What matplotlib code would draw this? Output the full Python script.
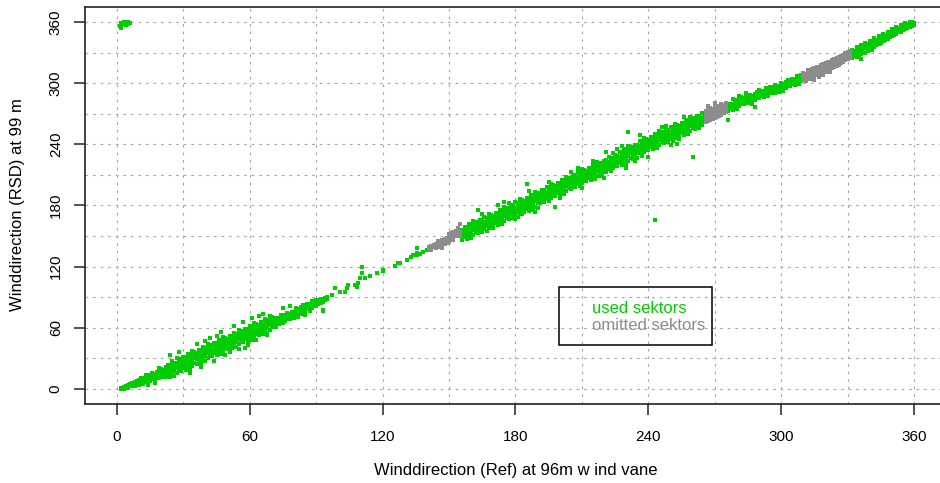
import matplotlib
matplotlib.use("Agg")
import matplotlib.pyplot as plt
from matplotlib.patches import Rectangle

plt.rcParams['font.family'] = ['Liberation Sans', 'DejaVu Sans']

GREEN = '#00cd00'
GREY = '#8c8c8c'

# used sectors, dense part: ref direction -> rsd directions read at that ref
used_a = {
    2: [0, 1], 3: [0, 1, 2], 4: [1, 2, 3], 5: [2, 3, 4, 1], 6: [3, 4, 5],
    7: [3, 5, 6, 4], 8: [4, 6, 7, 3], 9: [5, 7, 4, 8],
    10: [4, 6, 8, 9], 11: [6, 8, 9, 11], 12: [5, 7, 9, 11], 13: [7, 9, 11, 14],
    14: [8, 10, 12, 5], 15: [8, 11, 12, 14], 16: [10, 11, 14, 16],
    17: [10, 12, 14, 15, 6], 18: [12, 14, 15, 17], 19: [11, 13, 15, 17],
    20: [13, 15, 17, 20], 21: [15, 17, 19, 12],
    22: [12, 16, 19, 22], 23: [14, 17, 20, 24], 24: [12, 16, 19, 22, 24, 33],
    25: [15, 18, 22, 27], 26: [18, 21, 24, 26, 13], 27: [16, 21, 23, 26, 30],
    28: [19, 23, 25, 29], 29: [18, 22, 25, 28], 30: [21, 24, 27, 31],
    31: [19, 23, 26, 29, 31], 32: [22, 25, 29, 34], 33: [25, 28, 31, 33, 20],
    34: [23, 28, 30, 33, 37], 35: [26, 30, 32, 36], 36: [25, 29, 32, 35],
    37: [28, 31, 34, 38], 38: [26, 30, 33, 36, 38], 39: [29, 32, 36, 41],
    40: [32, 35, 38, 40, 27], 41: [30, 35, 37, 40, 44], 42: [33, 37, 39, 43],
    43: [32, 36, 39, 42], 44: [35, 38, 41, 45], 45: [33, 37, 40, 43, 45],
    46: [36, 39, 43, 48], 47: [39, 42, 45, 47, 34], 48: [37, 42, 44, 47, 51],
    49: [40, 44, 46, 50], 50: [39, 43, 46, 49], 51: [42, 45, 48, 52],
    52: [40, 44, 47, 50, 52], 53: [43, 46, 50, 55], 54: [46, 49, 52, 54, 41],
    55: [44, 49, 51, 54, 58], 56: [47, 51, 53, 57], 57: [46, 50, 53, 56],
    58: [49, 52, 55, 59], 59: [47, 51, 54, 57, 59], 60: [50, 53, 57, 62],
    61: [53, 56, 59, 61, 48], 62: [51, 56, 58, 61, 65], 63: [54, 58, 60, 64],
    64: [53, 57, 60, 63], 65: [56, 59, 62, 66], 66: [54, 58, 61, 64, 66],
    67: [57, 60, 64, 69], 68: [60, 63, 66, 68, 55], 69: [58, 63, 65, 68, 72],
    70: [61, 65, 67, 71],
    71: [63, 65, 67, 68], 72: [65, 67, 68, 70], 73: [64, 66, 68, 70],
    74: [66, 68, 70, 73], 75: [68, 70, 72, 65, 79], 76: [67, 70, 71, 73],
    77: [69, 70, 73, 75], 78: [69, 71, 73, 74], 79: [71, 73, 74, 76],
    80: [70, 72, 74, 76], 81: [72, 74, 76, 79], 82: [74, 76, 78, 71],
    83: [74, 77, 78, 80], 84: [76, 77, 80, 82], 85: [76, 78, 80, 81],
    86: [78, 80, 81, 83], 87: [77, 79, 81, 83], 88: [79, 81, 83, 86],
    89: [81, 83, 85], 90: [81, 84, 85, 87], 91: [83, 84, 87], 92: [84, 86, 88],
    93: [85, 88, 77], 94: [87, 89], 95: [88, 90],
}

# scattered points on the ragged edges of the dense bands
used_edge_ref = [28, 33, 36, 38, 42, 44, 47, 51, 53, 55, 57, 59, 61, 63, 66, 68,
                 45, 49, 40, 58, 64, 72, 78, 85, 19, 14,
                 165, 170, 175, 180, 186, 190, 195, 200, 205, 210, 215, 220, 226,
                 230, 236, 240, 246, 250, 256, 172, 183, 193, 208, 218, 228, 234,
                 248, 254]
used_edge_rsd = [36, 16, 44, 22, 50, 27, 56, 36, 62, 39, 66, 43, 70, 48, 74, 53,
                 52, 33, 47, 40, 72, 61, 81, 73, 21, 4,
                 172, 158, 183, 167, 194, 178, 203, 187, 213, 197, 224, 207, 235,
                 217, 249, 228, 257, 239, 267, 180, 172, 186, 217, 209, 238, 224,
                 258, 245]

# sparse points between the dense part and the first omitted sector
used_b_ref = [97, 98.5, 100.7, 103, 103.7, 104.5, 107.5, 108.3, 109, 109.8,
              110.5, 110.5, 112, 114.3, 117.3, 120.3, 120.3, 125.6, 127, 127.8,
              130.8, 133, 133.8, 135.4, 135.4, 136.9, 138.3, 139.9, 135.4, 93.2]
used_b_rsd = [92, 98.8, 95.5, 95.5, 98.8, 102, 102, 100.4, 104.3, 108.6,
              113.5, 120, 108.6, 110.9, 114.1, 116.1, 116.8, 120.7, 123.4, 124,
              126.6, 129.8, 131.5, 131.5, 133.2, 132.5, 134.7, 136.4, 138, 77.5]

used_c = {
    156: [146, 150, 153, 156], 157: [149, 152, 155, 159],
    158: [147, 151, 154, 157, 159], 159: [150, 153, 157, 162],
    160: [153, 156, 159, 161, 148], 161: [151, 156, 158, 161, 165],
    162: [154, 158, 160, 164], 163: [153, 157, 160, 163, 176],
    164: [156, 159, 162, 166], 165: [154, 158, 161, 164, 166],
    166: [157, 160, 164, 169], 167: [160, 163, 166, 168, 155],
    168: [158, 163, 165, 168, 172], 169: [161, 165, 167, 171],
    170: [160, 164, 167, 170], 171: [163, 166, 169, 173],
    172: [161, 165, 168, 171, 173], 173: [164, 167, 171, 176],
    174: [167, 170, 173, 175, 162], 175: [165, 170, 172, 175, 179],
    176: [168, 172, 174, 178], 177: [167, 171, 174, 177, 182],
    178: [170, 173, 176, 180], 179: [168, 172, 175, 178, 180],
    180: [171, 174, 178, 183], 181: [174, 177, 180, 182, 169],
    182: [172, 177, 179, 182, 186], 183: [175, 179, 181, 185],
    184: [174, 178, 181, 184], 185: [177, 180, 183, 187, 201],
    186: [175, 179, 182, 185, 187], 187: [178, 181, 185, 190],
    188: [181, 184, 187, 189, 176], 189: [179, 184, 186, 189, 193, 174],
    190: [182, 186, 188, 192], 191: [182, 186, 189, 192],
    192: [185, 188, 191, 195], 193: [183, 187, 190, 193, 195],
    194: [186, 189, 193, 198], 195: [189, 192, 195, 197, 184],
    196: [187, 192, 194, 197, 201], 197: [190, 194, 196, 200],
    198: [189, 193, 196, 199, 179], 199: [192, 195, 198, 202],
    200: [190, 194, 197, 200, 202], 201: [193, 196, 200, 205],
    202: [196, 199, 202, 204, 191], 203: [194, 199, 201, 204, 208],
    204: [197, 201, 203, 207], 205: [196, 200, 203, 206],
    206: [200, 203, 206, 210], 207: [198, 202, 205, 208, 210],
    208: [201, 204, 208, 213], 209: [204, 207, 210, 212, 199],
    210: [202, 207, 209, 212, 216], 211: [205, 209, 211, 215],
    212: [204, 208, 211, 214], 213: [207, 210, 213, 217],
    214: [205, 209, 212, 215, 217], 215: [208, 211, 215, 220],
    216: [211, 214, 217, 219, 206], 217: [209, 214, 216, 219, 223],
    218: [212, 216, 218, 222], 219: [211, 215, 218, 221],
    220: [214, 217, 220, 224], 221: [213, 217, 220, 223, 225, 232],
    222: [216, 219, 223, 228], 223: [219, 222, 225, 227, 214],
    224: [217, 222, 224, 227, 231], 225: [220, 224, 226, 230],
    226: [219, 223, 226, 229], 227: [222, 225, 228, 232],
    228: [220, 224, 227, 230, 232], 229: [223, 226, 230, 235],
    230: [226, 229, 232, 234, 221], 231: [224, 229, 231, 234, 238, 252],
    232: [227, 231, 233, 237], 233: [226, 230, 233, 236],
    234: [229, 232, 235, 239], 235: [227, 231, 234, 237, 239],
    236: [231, 234, 238, 243], 237: [234, 237, 240, 242, 229],
    238: [232, 237, 239, 242, 246], 239: [235, 239, 241, 245],
    240: [234, 238, 241, 244], 241: [237, 240, 243, 247],
    242: [235, 239, 242, 245, 247], 243: [238, 241, 245, 250, 166],
    244: [241, 244, 247, 249, 236], 245: [239, 244, 246, 249, 253],
    246: [242, 246, 248, 252], 247: [241, 245, 248, 251],
    248: [244, 247, 250, 254], 249: [242, 246, 249, 252, 254],
    250: [245, 248, 252, 257], 251: [248, 251, 254, 256, 243],
    252: [246, 251, 253, 256, 260], 253: [249, 253, 255, 259, 240],
    254: [248, 252, 255, 258], 255: [251, 254, 257, 261],
    256: [249, 253, 256, 259, 261], 257: [252, 255, 259, 264],
    258: [255, 258, 261, 263, 250], 259: [253, 258, 260, 263, 267],
    260: [256, 260, 262, 266, 228], 261: [255, 259, 262, 265],
    262: [258, 261, 264, 268], 263: [256, 260, 263, 266, 268],
    264: [259, 262, 266, 271], 265: [262, 265, 268, 270],
}

used_d = {
    276: [273, 275, 277, 278, 264], 277: [275, 277, 278, 280],
    278: [274, 276, 278, 280, 284], 279: [276, 278, 280, 283],
    280: [278, 280, 282, 275], 281: [278, 281, 282, 284, 287],
    282: [280, 281, 284, 286], 283: [280, 282, 284, 285],
    284: [282, 284, 285, 287, 290], 285: [281, 283, 285, 287],
    286: [281, 283, 285, 288], 287: [283, 285, 287, 280],
    288: [283, 286, 287, 289, 277], 289: [285, 286, 289, 291],
    290: [285, 287, 289, 290, 293], 291: [287, 289, 290, 292],
    292: [286, 288, 290, 292], 293: [288, 290, 292, 295],
    294: [290, 292, 294, 287], 295: [290, 293, 294, 296],
    296: [290, 291, 294, 296], 297: [290, 292, 294, 295, 298],
    298: [292, 294, 295, 297], 299: [291, 293, 295, 297],
    300: [293, 295, 297, 300], 301: [295, 297, 299, 292],
    302: [295, 298, 299, 301], 303: [297, 298, 301, 303],
    304: [297, 299, 301, 302], 305: [299, 301, 302, 304],
    306: [298, 300, 302, 304], 307: [300, 302, 304, 307],
    308: [302, 304, 306, 299], 309: [302, 305, 306, 308],
}

used_e = {
    332: [325, 328, 331, 333], 333: [327, 329, 332], 334: [326, 330, 333, 335],
    335: [328, 331, 334], 336: [329, 332, 334, 337, 324], 337: [331, 333, 336],
    338: [330, 334, 337, 339], 339: [332, 335, 338], 340: [334, 336, 339, 341],
    341: [333, 337, 340], 342: [335, 338, 341, 344], 343: [337, 340, 342],
    344: [338, 341, 343, 346], 345: [339, 342, 345], 346: [341, 343, 346, 348],
    347: [342, 345, 347], 348: [343, 346, 348, 350], 349: [345, 347, 350],
    350: [346, 348, 351, 353], 351: [347, 350, 352], 352: [348, 351, 353, 355],
    353: [350, 352, 354], 354: [350, 353, 355, 357], 355: [352, 354, 357],
    356: [353, 355, 357, 359], 357: [354, 356, 358], 358: [355, 357, 359, 360],
    359: [356, 358, 360], 360: [357, 359],
}

# near-north values that wrapped round to ~360 on the RSD
used_wrap_ref = [2, 3, 3, 4, 5, 5, 6, 2, 1.5, 4]
used_wrap_rsd = [359, 360, 358, 359, 360, 358, 359, 354, 356, 357]

# omitted sectors
omit_a = {
    141: [137, 139], 142: [138, 140, 136], 143: [139, 141], 144: [140, 142, 138],
    145: [141, 143, 145], 146: [142, 144, 139], 147: [143, 146, 141, 138],
    148: [144, 147, 142], 149: [146, 148, 143], 150: [146, 149, 152, 144],
    151: [148, 150, 153], 152: [148, 151, 154, 146], 153: [150, 152, 155],
    154: [151, 153, 156, 158], 155: [152, 154, 150, 162],
}
omit_b = {
    266: [262, 266, 269, 273], 267: [263, 268, 270, 274, 278],
    268: [264, 267, 270, 272, 276], 269: [265, 269, 272, 275],
    270: [266, 270, 273, 277, 281], 271: [267, 270, 272, 276],
    272: [268, 272, 275, 278], 273: [269, 273, 276, 280],
    274: [271, 274, 277, 279], 275: [272, 275, 278, 281],
}
omit_c = {
    310: [303, 306, 308, 310], 311: [304, 307, 309, 302], 312: [305, 308, 310, 313],
    313: [306, 309, 311, 304], 314: [307, 309, 312, 314], 315: [307, 310, 312, 315, 303],
    316: [308, 311, 313, 316], 317: [309, 312, 315, 306], 318: [310, 313, 315, 318],
    319: [311, 313, 316, 319, 308], 320: [311, 314, 317, 320], 321: [312, 315, 318, 321],
    322: [314, 317, 319, 311], 323: [315, 318, 320, 323], 324: [316, 319, 321, 324],
    325: [317, 320, 322, 325], 326: [318, 321, 323, 326], 327: [320, 322, 325, 327],
    328: [321, 324, 326, 328], 329: [323, 325, 327, 330], 330: [324, 326, 328, 331],
    331: [325, 327, 329, 332],
}

legend_labels = ['used sektors', 'omitted sektors']
major_ticks = [0, 60, 120, 180, 240, 300, 360]
grid_ticks = [0, 30, 60, 90, 120, 150, 180, 210, 240, 270, 300, 330, 360]


def expand(d):
    xs, ys = [], []
    for ref, vals in d.items():
        xs += [ref] * len(vals)
        ys += vals
    return xs, ys


fig = plt.figure(figsize=(9.4, 4.83), dpi=100)
ax = fig.add_axes([0.0904, 0.1642, 0.9160, 0.8207])

pt = dict(marker='s', s=8, linewidths=0)
for d in [used_a, used_c, used_d, used_e]:
    x, y = expand(d)
    ax.scatter(x, y, color=GREEN, **pt)
ax.scatter(used_edge_ref, used_edge_rsd, color=GREEN, **pt)
ax.scatter(used_b_ref, used_b_rsd, color=GREEN, **pt)
ax.scatter(used_wrap_ref, used_wrap_rsd, color=GREEN, **pt)
for d in [omit_a, omit_b, omit_c]:
    x, y = expand(d)
    ax.scatter(x, y, color=GREY, **pt)

ax.set_xlim(-14.4, 374.4)
ax.set_ylim(-14.4, 374.4)
ax.set_xticks(major_ticks)
ax.set_yticks(major_ticks)
ax.set_xticks(grid_ticks, minor=True)
ax.set_yticks(grid_ticks, minor=True)
ax.set_axisbelow(True)
ax.grid(which='both', color='#a6a6a6', linestyle=(0, (2.4, 4.4)), linewidth=0.8)
ax.tick_params(which='minor', length=0)
ax.tick_params(which='major', length=8, width=1.1, labelsize=11, color='#222222')
ax.tick_params(axis='x', pad=11)
ax.tick_params(axis='y', pad=8)
for lbl in ax.get_yticklabels():
    lbl.set_rotation(90)
    lbl.set_va('center')

for s in ax.spines.values():
    s.set_linewidth(1.2)
    s.set_color('#222222')

# legend box, no symbols, coloured text only
ax.add_patch(Rectangle((0.5505, 0.1481), 0.1777, 0.1463, transform=ax.transAxes,
                       fill=False, edgecolor='black', linewidth=1.1))
ax.text(0.5889, 0.2389, legend_labels[0], color=GREEN, fontsize=12,
        transform=ax.transAxes, va='center')
ax.text(0.5889, 0.1960, legend_labels[1], color=GREY, fontsize=12,
        transform=ax.transAxes, va='center')

fig.text(515.5 / 940, 1 - 470 / 483, 'Winddirection (Ref) at 96m w ind vane',
         ha='center', va='center', fontsize=12)
fig.text(18 / 940, 1 - 205 / 483, 'Winddirection (RSD) at 99 m',
         ha='center', va='center', rotation=90, fontsize=12)

fig.savefig('out.png', dpi=100)
